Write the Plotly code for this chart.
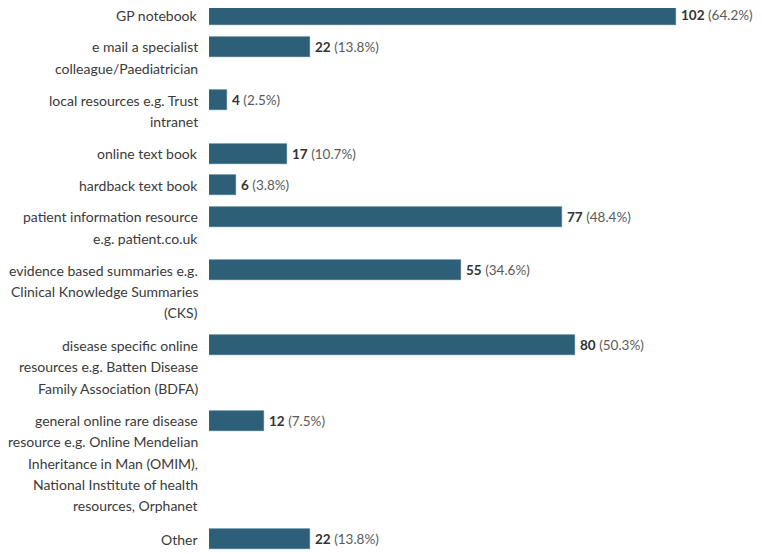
import plotly.graph_objects as go

categories = [
    "GP notebook",
    "e mail a specialist<br>colleague/Paediatrician",
    "local resources e.g. Trust<br>intranet",
    "online text book",
    "hardback text book",
    "patient information resource<br>e.g. patient.co.uk",
    "evidence based summaries e.g.<br>Clinical Knowledge Summaries<br>(CKS)",
    "disease specific online<br>resources e.g. Batten Disease<br>Family Association (BDFA)",
    "general online rare disease<br>resource e.g. Online Mendelian<br>Inheritance in Man (OMIM),<br>National Institute of health<br>resources, Orphanet",
    "Other",
]
counts = [102, 22, 4, 17, 6, 77, 55, 80, 12, 22]
percents = [64.2, 13.8, 2.5, 10.7, 3.8, 48.4, 34.6, 50.3, 7.5, 13.8]

PAGE_W, PAGE_H = 762, 554
OFF = 8                      # default page body margin
W, H = PAGE_W - OFF, PAGE_H - OFF
LEFT = 209                   # page x where bars start
BAR_H = 20
ROW_LINE = 21.7
ROW_PAD = 10
TEXT_LINE = 21.3
BAR_COLOR = "#2d6078"
FONT = "Lato, 'Open Sans', sans-serif"
FS = 14

lines = [c.split("<br>") for c in categories]
ypos = []
y = 15
for ln in lines:
    ypos.append(y)
    y += ROW_LINE * len(ln) + ROW_PAD

px_per_unit = (676 - LEFT) / 102
xmax = (PAGE_W - LEFT) / px_per_unit

fig = go.Figure()
fig.add_trace(go.Bar(
    x=counts, y=ypos, orientation="h", width=BAR_H,
    marker=dict(color=BAR_COLOR, line=dict(color="#3f7390", width=0.6)),
    hoverinfo="skip", showlegend=False,
))

annotations = []
for ln, yc in zip(lines, ypos):
    for k, t in enumerate(ln):
        annotations.append(dict(
            xref="paper", yref="y", x=0, y=yc + k * TEXT_LINE,
            xanchor="right", yanchor="middle", xshift=-9,
            text=t, showarrow=False,
            font=dict(family=FONT, size=FS, color="#3a3a3a"),
        ))
for c, p, yc in zip(counts, percents, ypos):
    annotations.append(dict(
        xref="x", yref="y", x=c, y=yc, xanchor="left", yanchor="middle",
        xshift=3,
        text=f"<b>{c}</b>&nbsp;<span style='color:#5a5a5a'>({p}%)</span>",
        showarrow=False,
        font=dict(family=FONT, size=13.5, color="#333333"),
    ))

fig.update_layout(
    width=W, height=H,
    margin=dict(l=LEFT - OFF, r=0, t=0, b=0),
    paper_bgcolor="white", plot_bgcolor="white",
    xaxis=dict(range=[0, xmax], visible=False, fixedrange=True),
    yaxis=dict(range=[PAGE_H, OFF], visible=False, fixedrange=True),
    annotations=annotations,
    bargap=0,
)
fig.write_html("out.html")
